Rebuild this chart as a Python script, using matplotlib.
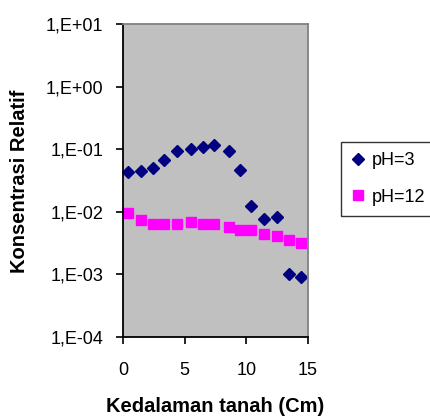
import matplotlib
matplotlib.use("Agg")
import matplotlib.pyplot as plt
from matplotlib.ticker import FixedLocator, FixedFormatter

plt.rcParams['font.family'] = ['Liberation Sans', 'DejaVu Sans']

depth = [0.4, 1.45, 2.4, 3.3, 4.4, 5.5, 6.45, 7.4, 8.6, 9.45, 10.35, 11.4, 12.5, 13.45, 14.4]
ph3 = [0.043, 0.0455, 0.051, 0.067, 0.094, 0.100, 0.108, 0.116, 0.094, 0.047,
       0.0126, 0.0076, 0.0082, 0.0010, 0.00092]
ph12 = [0.0096, 0.0073, 0.0064, 0.0064, 0.0064, 0.0068, 0.0064, 0.0064, 0.0058, 0.0051,
        0.0051, 0.0045, 0.0041, 0.0036, 0.0032]
series_names = ["pH=3", "pH=12"]
y_ticks = [1e-4, 1e-3, 1e-2, 1e-1, 1e0, 1e1]
y_tick_labels = ["1,E-04", "1,E-03", "1,E-02", "1,E-01", "1,E+00", "1,E+01"]
x_ticks = [0, 5, 10, 15]
x_label = "Kedalaman tanah (Cm)"
y_label = "Konsentrasi Relatif"

W, H = 431, 417
fig = plt.figure(figsize=(W / 100, H / 100), dpi=100)
L, R, T, B = 123, 308, 24, 337
ax = fig.add_axes([L / W, (H - B) / H, (R - L) / W, (B - T) / H])
ax.set_facecolor('#C0C0C0')

ax.plot(depth, ph3, linestyle='none', marker='D', markersize=5.8,
        color='#000080', label=series_names[0], clip_on=False)
ax.plot(depth, ph12, linestyle='none', marker='s', markersize=7.2,
        color='#FF00FF', label=series_names[1], clip_on=False)

ax.set_yscale('log')
ax.set_ylim(1e-4, 1e1)
ax.set_xlim(0, 15)
ax.yaxis.set_major_locator(FixedLocator(y_ticks))
ax.yaxis.set_major_formatter(FixedFormatter(y_tick_labels))
ax.yaxis.set_minor_locator(FixedLocator([]))
ax.set_xticks(x_ticks)
ax.set_xticklabels([str(v) for v in x_ticks])

for s in ['left', 'bottom']:
    ax.spines[s].set_color('black')
    ax.spines[s].set_linewidth(1.3)
for s in ['top', 'right']:
    ax.spines[s].set_color('#808080')
    ax.spines[s].set_linewidth(1.3)

ax.tick_params(axis='y', direction='out', length=5, width=1.2, pad=9, labelsize=13)
ax.tick_params(axis='x', direction='out', length=5, width=1.2, pad=13, labelsize=13)

ax.set_xlabel(x_label, fontsize=14.5, fontweight='bold')
ax.set_ylabel(y_label, fontsize=14.5, fontweight='bold')
ax.xaxis.set_label_coords((215 - L) / (R - L), (B - 407) / (B - T))
ax.xaxis.label.set_va('center')
ax.yaxis.set_label_coords((20 - L) / (R - L), (B - 181) / (B - T))
ax.yaxis.label.set_va('center')

leg = fig.legend(loc='upper left', bbox_to_anchor=(341 / W, 1 - 142 / H),
                 bbox_transform=fig.transFigure, borderaxespad=0,
                 fontsize=13, frameon=True, fancybox=False, edgecolor='black',
                 handlelength=0.8, handletextpad=0.35, labelspacing=1.1,
                 borderpad=0.55, markerscale=1.0)
leg.get_frame().set_linewidth(1.0)

fig.savefig('out.png', dpi=100)
